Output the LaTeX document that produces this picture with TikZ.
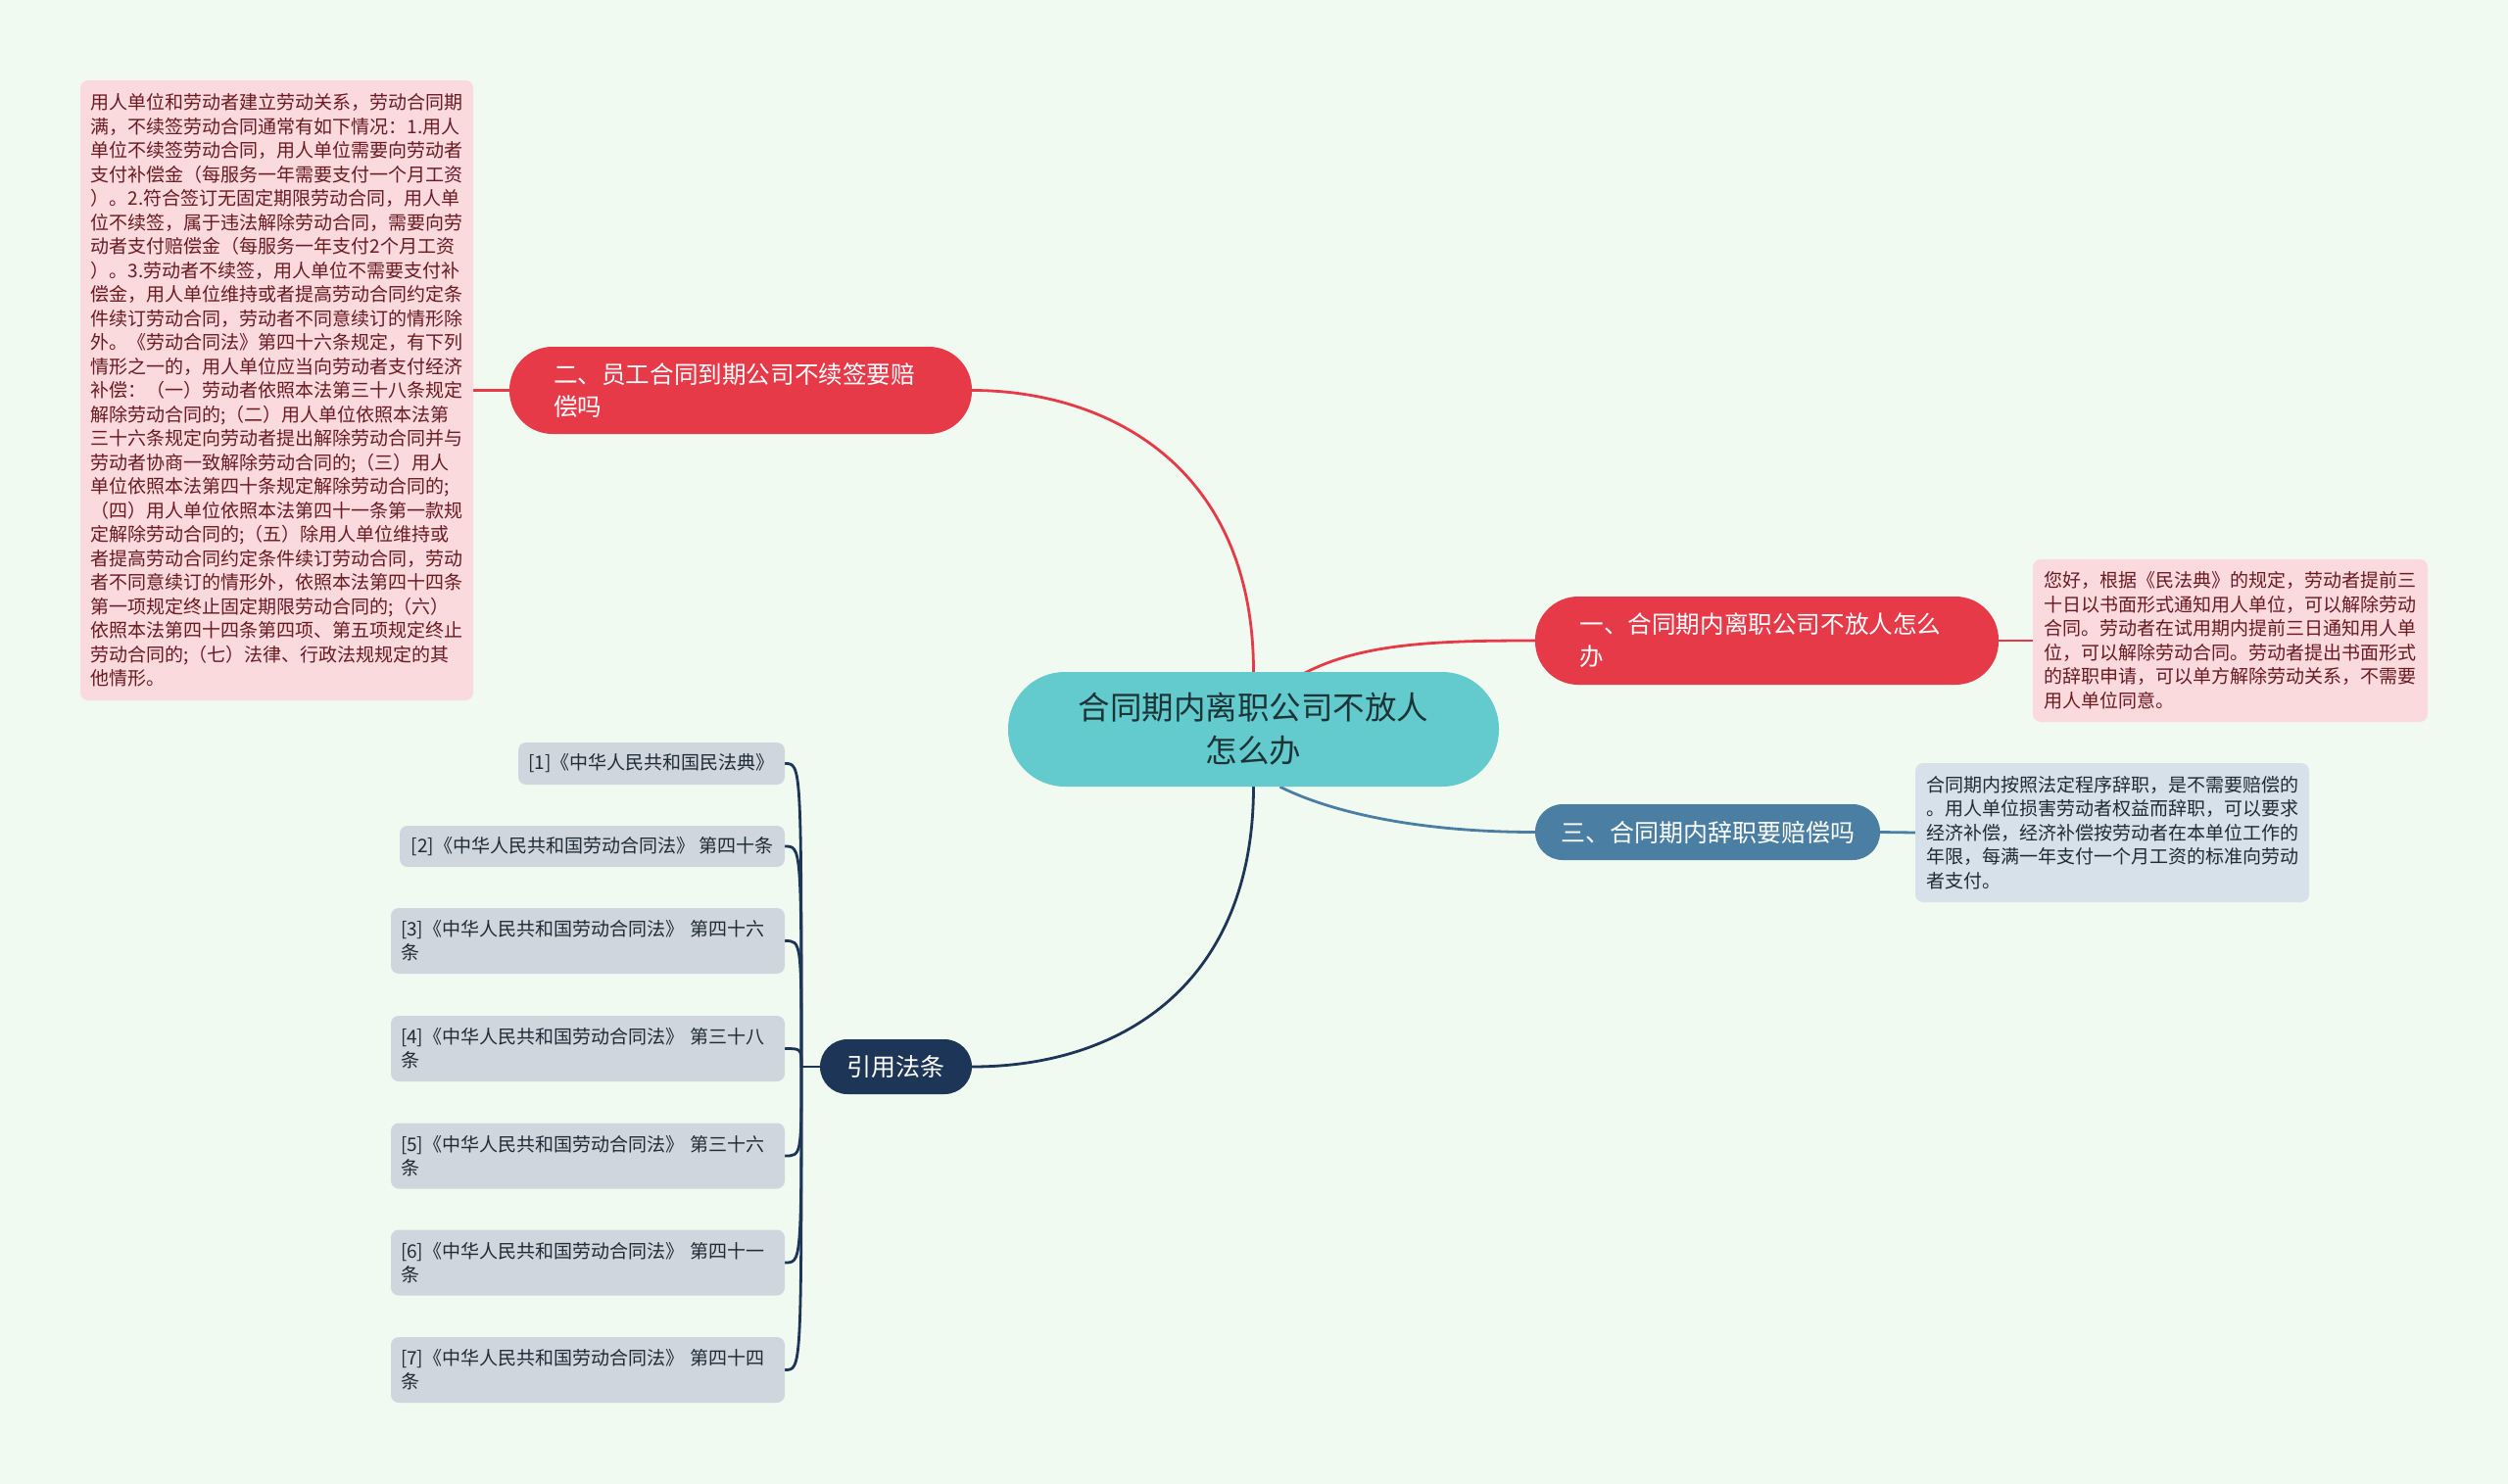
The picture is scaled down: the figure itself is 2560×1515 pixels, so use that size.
\documentclass[tikz,border=0pt]{standalone}
\usepackage{fontspec}
\newfontfamily\cjk{Noto Sans CJK SC}
\pgfdeclarelayer{edges}
\pgfsetlayers{edges,main}
\definecolor{bgc}{HTML}{F1FAF0}
\definecolor{rootc}{HTML}{63CACD}
\definecolor{roottext}{HTML}{1C3436}
\definecolor{redc}{HTML}{E63A48}
\definecolor{pinkc}{HTML}{FADADD}
\definecolor{pinktext}{HTML}{6A1B22}
\definecolor{bluec}{HTML}{4A7EA2}
\definecolor{paleblue}{HTML}{D6E1E9}
\definecolor{navyc}{HTML}{1D3557}
\definecolor{greyc}{HTML}{D0D6DD}
\definecolor{darktext}{HTML}{1F2B36}
\tikzset{
  notebox/.style={font={\cjk\fontsize{19}{24.5}\selectfont}, rounded corners=8pt, inner sep=0pt, align=left},
  branchbox/.style={rounded corners=#1, inner sep=0pt, text=white},
  bigtxt/.style={font={\cjk\fontsize{24.6}{33}\selectfont}, text width=382pt, align=left},
  refbox/.style={fill=greyc, rounded corners=8pt, inner sep=0pt, text=darktext, font={\cjk\fontsize{19}{24}\selectfont}},
  reftwo/.style={refbox, minimum width=402pt, minimum height=67pt, text width=382pt, align=left},
  redline/.style={draw=redc, line width=2.8pt},
  blueline/.style={draw=bluec, line width=2.8pt},
  navyline/.style={draw=navyc, line width=2.8pt}
}
\begin{document}
\begin{tikzpicture}[x=1pt,y=-1pt]
\useasboundingbox (0,0) rectangle (2560,1515);

% root
\node[branchbox=58pt, fill=rootc, text=roottext, minimum width=501pt, minimum height=117pt, align=center,
  font={\cjk\fontsize{32.5}{44}\selectfont}] (c) at (1279.5,744.5) {合同期内离职公司不放人\\怎么办};

% branch 2 (left top)
\node[branchbox=44pt, fill=redc, bigtxt, minimum width=472pt, minimum height=89pt] (n2) at (756,398.5)
  {二、员工合同到期公司不续签要赔\\偿吗};
\node[notebox, fill=pinkc, text=pinktext, minimum width=401pt, minimum height=633pt] (n2t) at (282.5,398.5)
  {用人单位和劳动者建立劳动关系，劳动合同期\\
满，不续签劳动合同通常有如下情况：1.用人\\
单位不续签劳动合同，用人单位需要向劳动者\\
支付补偿金（每服务一年需要支付一个月工资\\
）。2.符合签订无固定期限劳动合同，用人单\\
位不续签，属于违法解除劳动合同，需要向劳\\
动者支付赔偿金（每服务一年支付2个月工资\\
）。3.劳动者不续签，用人单位不需要支付补\\
偿金，用人单位维持或者提高劳动合同约定条\\
件续订劳动合同，劳动者不同意续订的情形除\\
外。《劳动合同法》第四十六条规定，有下列\\
情形之一的，用人单位应当向劳动者支付经济\\
补偿：（一）劳动者依照本法第三十八条规定\\
解除劳动合同的;（二）用人单位依照本法第\\
三十六条规定向劳动者提出解除劳动合同并与\\
劳动者协商一致解除劳动合同的;（三）用人\\
单位依照本法第四十条规定解除劳动合同的;\\
（四）用人单位依照本法第四十一条第一款规\\
定解除劳动合同的;（五）除用人单位维持或\\
者提高劳动合同约定条件续订劳动合同，劳动\\
者不同意续订的情形外，依照本法第四十四条\\
第一项规定终止固定期限劳动合同的;（六）\\
依照本法第四十四条第四项、第五项规定终止\\
劳动合同的;（七）法律、行政法规规定的其\\
他情形。};

% branch 1 (right top)
\node[branchbox=44pt, fill=redc, bigtxt, minimum width=473pt, minimum height=90pt] (n1) at (1803.5,654)
  {一、合同期内离职公司不放人怎么\\办};
\node[notebox, fill=pinkc, text=pinktext, minimum width=403pt, minimum height=166pt] (n1t) at (2276.5,654)
  {您好，根据《民法典》的规定，劳动者提前三\\
十日以书面形式通知用人单位，可以解除劳动\\
合同。劳动者在试用期内提前三日通知用人单\\
位，可以解除劳动合同。劳动者提出书面形式\\
的辞职申请，可以单方解除劳动关系，不需要\\
用人单位同意。};

% branch 3 (right bottom)
\node[branchbox=28pt, fill=bluec, minimum width=352pt, minimum height=57pt,
  font={\cjk\fontsize{25}{30}\selectfont}] (n3) at (1743,849.5) {三、合同期内辞职要赔偿吗};
\node[notebox, fill=paleblue, text=darktext, minimum width=402pt, minimum height=142pt] (n3t) at (2156,850)
  {合同期内按照法定程序辞职，是不需要赔偿的\\
。用人单位损害劳动者权益而辞职，可以要求\\
经济补偿，经济补偿按劳动者在本单位工作的\\
年限，每满一年支付一个月工资的标准向劳动\\
者支付。};

% references
\node[branchbox=28pt, fill=navyc, minimum width=155pt, minimum height=56pt,
  font={\cjk\fontsize{25}{30}\selectfont}] (nref) at (914.5,1089) {引用法条};
\coordinate (j) at (818,1089);

\node[refbox, minimum width=272pt, minimum height=43pt] (r1) at (665,779.5) {[1]《中华人民共和国民法典》};
\node[refbox, minimum width=393pt, minimum height=42pt] (r2) at (604.5,864) {[2]《中华人民共和国劳动合同法》 第四十条};
\node[reftwo] (r3) at (600,960.5) {[3]《中华人民共和国劳动合同法》 第四十六\\条};
\node[reftwo] (r4) at (600,1070.5) {[4]《中华人民共和国劳动合同法》 第三十八\\条};
\node[reftwo] (r5) at (600,1180) {[5]《中华人民共和国劳动合同法》 第三十六\\条};
\node[reftwo] (r6) at (600,1289) {[6]《中华人民共和国劳动合同法》 第四十一\\条};
\node[reftwo] (r7) at (600,1398.5) {[7]《中华人民共和国劳动合同法》 第四十四\\条};

\begin{pgfonlayer}{edges}
  \fill[bgc] (0,0) rectangle (2560,1515);
  % root to branches
  \draw[redline] (c.north) .. controls (1279.5,473) and (1127,398.5) .. (n2.east);
  \draw[redline] (n2.west) -- (n2t.east);
  \draw[redline] ([xshift=51pt,yshift=-2pt]c.north) .. controls (1390,656) and (1470,654) .. (n1.west);
  \draw[redline] (n1.east) -- (n1t.west);
  \draw[blueline] ([xshift=27pt]c.south) .. controls (1360,830) and (1450,849.5) .. (n3.west);
  \draw[blueline] (n3.east) -- (n3t.west);
  \draw[navyline] (c.south) .. controls (1279.5,1000) and (1150,1089) .. (nref.east);
  \draw[navyline] (nref.west) -- (j);
  \foreach \r in {r1,r2,r3,r4,r5,r6,r7}{
    \draw[navyline] (j) .. controls (j |- \r.east) and (j |- \r.east) .. (\r.east);
  }
\end{pgfonlayer}
\end{tikzpicture}
\end{document}
